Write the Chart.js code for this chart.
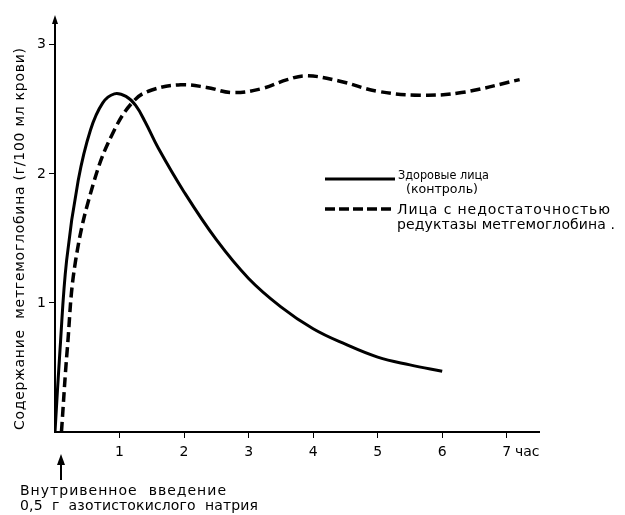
<!DOCTYPE html>
<html>
<head>
<meta charset="utf-8">
<script src="https://cdn.jsdelivr.net/npm/chart.js@4"></script>
<style>
  html, body { margin: 0; padding: 0; background: #fff; }
  #wrap { width: 625px; height: 515px; }
</style>
</head>
<body>
<div id="wrap"><canvas id="grafico" width="625" height="515"></canvas></div>
<script>
// часы и значения
const horasSanos = [0, 0.078, 0.18, 0.36, 0.55, 0.74, 0.92, 1.1, 1.25, 1.4, 1.6, 2, 2.5, 3, 3.5, 4, 4.5, 5, 5.5, 6];
const valoresSanos = [0, 0.64, 1.33, 1.95, 2.34, 2.55, 2.62, 2.6, 2.53, 2.4, 2.2, 1.86, 1.49, 1.19, 0.97, 0.8, 0.68, 0.58, 0.52, 0.47];

const horasDeficit = [0.1, 0.19, 0.32, 0.61, 0.92, 1.23, 1.5, 1.95, 2.35, 2.75, 3.2, 3.6, 3.9, 4.4, 5.0, 5.65, 6.3, 7.2];
const valoresDeficit = [0, 0.64, 1.33, 1.95, 2.34, 2.57, 2.65, 2.69, 2.67, 2.63, 2.66, 2.73, 2.76, 2.72, 2.64, 2.61, 2.63, 2.73];

const ticksX = [1, 2, 3, 4, 5, 6, 7];
const ticksY = [1, 2, 3];

const etiquetas = ['Здоровые лица', '(контроль)', 'Лица с недостаточностью', 'редуктазы метгемоглобина .'];
const tituloY = 'Содержание  метгемоглобина (г/100 мл крови)';
const unidadX = 'час';
const nota = ['Внутривенное  введение', '0,5  г  азотистокислого  натрия'];

const fuente = '"DejaVu Sans", sans-serif';

const puntos = (xs, ys) => xs.map((x, i) => ({ x: x, y: ys[i] }));

// texto ajustado a un ancho dado
function texto(ctx, t, x, y, ancho, tam) {
    ctx.font = tam + 'px ' + fuente;
    ctx.letterSpacing = '0px';
    let w = ctx.measureText(t).width;
    if (w > ancho) {
        ctx.save();
        ctx.translate(x, y);
        ctx.scale(ancho / w, 1);
        ctx.fillText(t, 0, 0);
        ctx.restore();
    } else {
        ctx.letterSpacing = ((ancho - w) / (t.length - 1)) + 'px';
        ctx.fillText(t, x, y);
        ctx.letterSpacing = '0px';
    }
}

const extras = {
    id: 'extras',
    afterDraw(chart) {
        const ctx = chart.ctx;
        const x = chart.scales.x;
        const y = chart.scales.y;
        ctx.save();
        ctx.fillStyle = '#000';
        ctx.strokeStyle = '#000';

        // flecha del eje y
        ctx.beginPath();
        ctx.moveTo(x.left, y.top - 4);
        ctx.lineTo(x.left - 3, y.top + 5);
        ctx.lineTo(x.left + 3, y.top + 5);
        ctx.closePath();
        ctx.fill();

        // leyenda
        ctx.lineWidth = 3;
        ctx.beginPath();
        ctx.moveTo(325, 179);
        ctx.lineTo(395, 179);
        ctx.stroke();
        ctx.setLineDash([10, 4]);
        ctx.lineWidth = 3.5;
        ctx.beginPath();
        ctx.moveTo(325, 209);
        ctx.lineTo(393, 209);
        ctx.stroke();
        ctx.setLineDash([]);

        ctx.textBaseline = 'middle';
        ctx.textAlign = 'left';
        texto(ctx, etiquetas[0], 398, 176, 91, 13);
        texto(ctx, etiquetas[1], 406, 190, 72, 13);
        texto(ctx, etiquetas[2], 397, 210, 213, 14);
        texto(ctx, etiquetas[3], 397, 225, 218, 14);

        // unidad del eje x
        ctx.font = '14px ' + fuente;
        ctx.fillText(unidadX, 515, 452);

        // titulo eje y
        ctx.save();
        ctx.translate(20, 239);
        ctx.rotate(-Math.PI / 2);
        texto(ctx, tituloY, -191, 0, 382, 14);
        ctx.restore();

        // flecha de la inyección
        ctx.lineWidth = 2;
        ctx.beginPath();
        ctx.moveTo(61, 462);
        ctx.lineTo(61, 480);
        ctx.stroke();
        ctx.beginPath();
        ctx.moveTo(61, 454);
        ctx.lineTo(57, 465);
        ctx.lineTo(65, 465);
        ctx.closePath();
        ctx.fill();

        texto(ctx, nota[0], 20, 491, 206, 14);
        texto(ctx, nota[1], 20, 506, 238, 14);
        ctx.restore();
    }
};

const chart = new Chart(document.getElementById('grafico'), {
    type: 'line',
    data: {
        datasets: [{
            label: etiquetas[0],
            data: puntos(horasSanos, valoresSanos),
            borderColor: '#000',
            borderWidth: 3,
            pointRadius: 0,
            fill: false,
            tension: 0.4
        }, {
            label: etiquetas[2],
            data: puntos(horasDeficit, valoresDeficit),
            borderColor: '#000',
            borderWidth: 3.5,
            borderDash: [10, 5],
            pointRadius: 0,
            fill: false,
            tension: 0.4
        }]
    },
    options: {
        responsive: false,
        animation: false,
        layout: { padding: { top: 19, right: 86, left: 0, bottom: 0 } },
        plugins: { legend: { display: false }, tooltip: { enabled: false } },
        scales: {
            x: {
                type: 'linear',
                min: 0,
                max: 7.5,
                afterBuildTicks: (s) => { s.ticks = ticksX.map(v => ({ value: v })); },
                afterFit: (s) => { s.height = 83; },
                grid: { drawOnChartArea: false, color: '#000', tickLength: 6, lineWidth: 1 },
                border: { display: true, color: '#000', width: 2 },
                ticks: { color: '#000', font: { family: fuente, size: 14 }, padding: 6 }
            },
            y: {
                min: 0,
                max: 3.2,
                afterBuildTicks: (s) => { s.ticks = ticksY.map(v => ({ value: v })); },
                afterFit: (s) => { s.width = 55; },
                grid: { drawOnChartArea: false, color: '#000', tickLength: 6, lineWidth: 1 },
                border: { display: true, color: '#000', width: 2 },
                ticks: { color: '#000', font: { family: fuente, size: 14 }, padding: 3 }
            }
        }
    },
    plugins: [extras]
});
</script>
</body>
</html>
